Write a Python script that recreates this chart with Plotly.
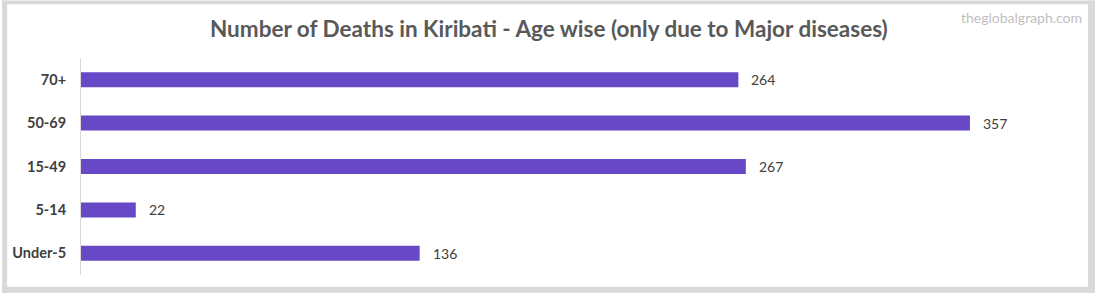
import plotly.graph_objects as go

categories = ["Under-5", "5-14", "15-49", "50-69", "70+"]
deaths = [136, 22, 267, 357, 264]
title_text = "Number of Deaths in Kiribati - Age wise (only due to Major diseases)"
watermark = "theglobalgraph.com"

W, H = 1095, 293
L, R, T, B = 79, 18, 57.75, 17.75
pw = W - L - R
ph = H - T - B

def px_x(p):
    return (p - L) / pw

def px_y(p):
    return (H - B - p) / ph

FONT = "Lato"
fig = go.Figure()
fig.add_trace(go.Bar(
    y=categories, x=deaths, orientation="h",
    marker=dict(color="#6748C6", line=dict(width=0)),
    hoverinfo="skip",
))

annotations = []
for c, v in zip(categories, deaths):
    annotations.append(dict(x=v, y=c, xref="x", yref="y", text=str(v), showarrow=False,
                            xanchor="left", xshift=11,
                            font=dict(family=FONT, size=14, color="#404040")))
annotations.append(dict(x=px_x(W / 2), y=px_y(28), xref="paper", yref="paper",
                        text="<b>" + title_text + "</b>", showarrow=False,
                        xanchor="center", yanchor="middle",
                        font=dict(family=FONT, size=22.5, color="#595959")))
annotations.append(dict(x=px_x(1084), y=px_y(17), xref="paper", yref="paper",
                        text=watermark, showarrow=False,
                        xanchor="right", yanchor="middle",
                        font=dict(family=FONT, size=14, color="#BFBFBF")))

gray = "#D9D9D9"
shapes = [
    dict(type="rect", xref="paper", yref="paper", x0=px_x(0), x1=px_x(5), y0=px_y(H), y1=px_y(0),
         fillcolor=gray, line=dict(width=0), layer="below"),
    dict(type="rect", xref="paper", yref="paper", x0=px_x(0), x1=px_x(W), y0=px_y(4), y1=px_y(0),
         fillcolor=gray, line=dict(width=0), layer="below"),
    dict(type="rect", xref="paper", yref="paper", x0=px_x(1088), x1=px_x(W), y0=px_y(H), y1=px_y(0),
         fillcolor=gray, line=dict(width=0), layer="below"),
    dict(type="rect", xref="paper", yref="paper", x0=px_x(0), x1=px_x(W), y0=px_y(H), y1=px_y(287),
         fillcolor=gray, line=dict(width=0), layer="below"),
]

fig.update_layout(
    width=W, height=H,
    margin=dict(l=L, r=R, t=T, b=B, pad=0),
    paper_bgcolor="white", plot_bgcolor="white",
    bargap=0.655,
    showlegend=False,
    annotations=annotations,
    shapes=shapes,
    xaxis=dict(range=[0, 400], showgrid=False, zeroline=False, showticklabels=False,
               showline=False, ticks=""),
    yaxis=dict(showgrid=False, zeroline=False, showline=True, linecolor="#D9D9D9", linewidth=1,
               ticks="outside", ticklen=11, tickcolor="rgba(0,0,0,0)",
               tickfont=dict(family=FONT, size=14.5, color="#404040"),
               tickprefix="<b>", ticksuffix="</b>",
               categoryorder="array", categoryarray=categories),
)
fig.for_each_trace(lambda t: t.update(cliponaxis=False))
fig.write_html("out.html")
